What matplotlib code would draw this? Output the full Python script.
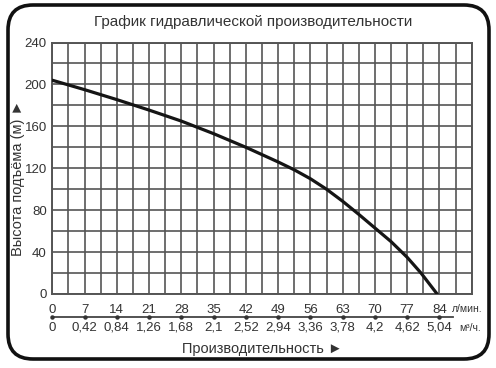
import matplotlib
matplotlib.use("Agg")
import matplotlib.pyplot as plt
import numpy as np
from matplotlib.patches import FancyBboxPatch
from matplotlib.transforms import blended_transform_factory

plt.rcParams['font.family'] = ['Liberation Sans', 'DejaVu Sans']

# Data
flow_lpm = [0, 7, 14, 21, 28, 35, 42, 49, 52.5, 56, 59.5, 63, 66.5, 70, 73.5, 77, 80, 83.5]
head_m = [204, 195, 185.5, 175.5, 165, 153, 140, 126, 118.5, 110, 100, 88.5, 76, 63, 50, 35, 20, 0]

flow_ticks = [0, 7, 14, 21, 28, 35, 42, 49, 56, 63, 70, 77, 84]
flow_labels = ['0', '7', '14', '21', '28', '35', '42', '49', '56', '63', '70', '77', '84']
m3h_labels = ['0', '0,42', '0,84', '1,26', '1,68', '2,1', '2,52', '2,94', '3,36', '3,78', '4,2', '4,62', '5,04']
head_ticks = [0, 40, 80, 120, 160, 200, 240]

title = 'График гидравлической производительности'
ylabel = 'Высота подъёма (м) ►'
xlabel = 'Производительность ►'

W, H = 496, 368
fig = plt.figure(figsize=(W / 100, H / 100), dpi=100)
fig.patch.set_facecolor('white')

# rounded frame
frame = FancyBboxPatch((8 / 100, (H - 359) / 100), (489 - 8) / 100, (359 - 5) / 100,
                       boxstyle="round,pad=0,rounding_size=0.25",
                       transform=fig.dpi_scale_trans, fill=False,
                       edgecolor='#111111', linewidth=2.6, zorder=0)
fig.patches.append(frame)

x0, x1, ytop, ybot = 52.3, 471.7, 42.5, 294.0
ax = fig.add_axes([x0 / W, (H - ybot) / H, (x1 - x0) / W, (ybot - ytop) / H])
ax.set_facecolor('white')
ax.set_xlim(0, 91)
ax.set_ylim(0, 240)

gc = '#555555'
tc = '#333333'
ax.set_xticks(np.arange(0, 91.01, 3.5), minor=True)
ax.set_xticks(flow_ticks)
ax.set_xticklabels(flow_labels)
ax.set_yticks(np.arange(0, 240.01, 20), minor=True)
ax.set_yticks(head_ticks)
ax.grid(True, which='both', color=gc, linewidth=1.2)
for s in ax.spines.values():
    s.set_color(gc)
    s.set_linewidth(1.4)
ax.tick_params(which='both', length=0)
ax.tick_params(axis='x', pad=7, labelsize=9.5, labelcolor=tc)
ax.tick_params(axis='y', pad=4, labelsize=9.5, labelcolor=tc)

ax.plot(flow_lpm, head_m, color='#151515', linewidth=2.3, solid_capstyle='round',
        solid_joinstyle='round', zorder=5)

# second scale row
tr = blended_transform_factory(ax.transData, fig.transFigure)
line_y = (H - 316.5) / H
ax.plot([0, 87], [line_y, line_y], transform=tr, color='#444444', linewidth=1.3, clip_on=False)
ax.plot(flow_ticks, [line_y] * len(flow_ticks), transform=tr, linestyle='none',
        marker='o', markersize=2.2, color=tc, clip_on=False)
for xv, lab in zip(flow_ticks, m3h_labels):
    ax.text(xv, (H - 328) / H, lab, transform=tr, ha='center', va='center',
            fontsize=9.5, color=tc)

fig.text(452 / W, (H - 309) / H, 'л/мин.', ha='left', va='center', fontsize=7.5, color=tc)
fig.text(459 / W, (H - 328) / H, 'м³/ч.', ha='left', va='center', fontsize=7.5, color=tc)

fig.text(253 / W, (H - 22) / H, title, ha='center', va='center', fontsize=11, color=tc)
fig.text(262 / W, (H - 349) / H, xlabel, ha='center', va='center', fontsize=10.5, color=tc)
fig.text(18 / W, (H - 178) / H, ylabel, ha='center', va='center', rotation=90,
         fontsize=10.5, color=tc)

fig.savefig('out.png', dpi=100, facecolor='white')
